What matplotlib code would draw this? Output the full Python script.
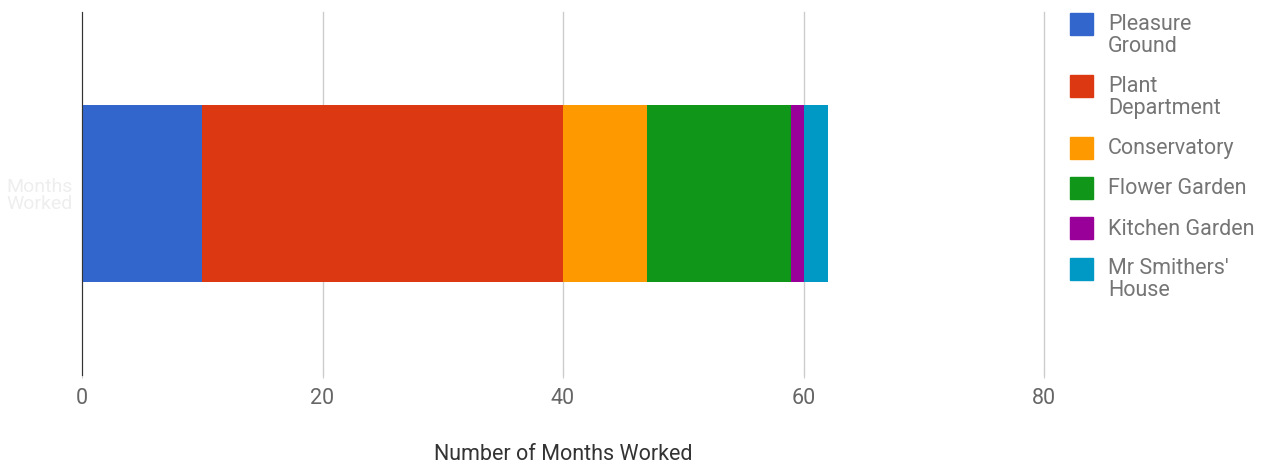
import matplotlib.pyplot as plt
from matplotlib.patches import Rectangle

plt.rcParams['font.family'] = ['Roboto', 'DejaVu Sans']

# Data
category = 'Months\nWorked'
areas = ['Pleasure\nGround', 'Plant\nDepartment', 'Conservatory',
         'Flower Garden', 'Kitchen Garden', "Mr Smithers'\nHouse"]
months = [10, 30, 7, 12, 1, 2]
colors = ['#3366cc', '#dc3912', '#ff9900', '#109618', '#990099', '#0099c6']
x_ticks = [0, 20, 40, 60, 80]

W, H = 1274, 463
fig = plt.figure(figsize=(W/100, H/100), dpi=100)
ax = fig.add_axes([82/W, 88/H, 962/W, 363/H])

#Stack the bars one after the other
left = 0
for name, val, col in zip(areas, months, colors):
    ax.barh(0, val, left=left, height=0.97, color=col, label=name)
    left = left + val

ax.set_xlim(0, 80)
ax.set_ylim(-1, 1)
ax.set_xticks(x_ticks)
ax.set_xticklabels([str(t) for t in x_ticks], fontsize=15.5, color='#666666')
ax.set_yticks([0])
ax.set_yticklabels([category], fontsize=14, color='#eeeeee', linespacing=0.95)
ax.tick_params(axis='y', length=0, pad=7)
ax.tick_params(axis='x', length=2, color='#cccccc', pad=7)
ax.xaxis.grid(True, color='#cccccc', linewidth=1)
for gl in ax.get_xgridlines():
    gl.set_clip_on(False)
ax.set_axisbelow(True)

for s in ['top', 'right', 'bottom']:
    ax.spines[s].set_visible(False)
ax.spines['left'].set_color('#333333')
ax.spines['left'].set_zorder(5)

ax.set_xlabel('Number of Months Worked', fontsize=15.5, color='#333333', labelpad=25.5)

#Legend on the right, square lined up with the first line of each label
#(va='baseline' sits on the last line, so shift down by the extra lines)
line_h = 21.4
baseline = 30.7
for name, col in zip(areas, colors):
    n_extra = name.count('\n')
    fig.add_artist(Rectangle((1070/W, 1 - (baseline + 4.5)/H), 23/W, 22/H,
                             transform=fig.transFigure, color=col))
    fig.text(1108/W, 1 - (baseline + line_h*n_extra)/H, name, fontsize=15.5,
             color='#757575', ha='left', va='baseline', linespacing=1.07)
    baseline = baseline + 40.3 + line_h*n_extra

fig.savefig('out.png', dpi=100)
